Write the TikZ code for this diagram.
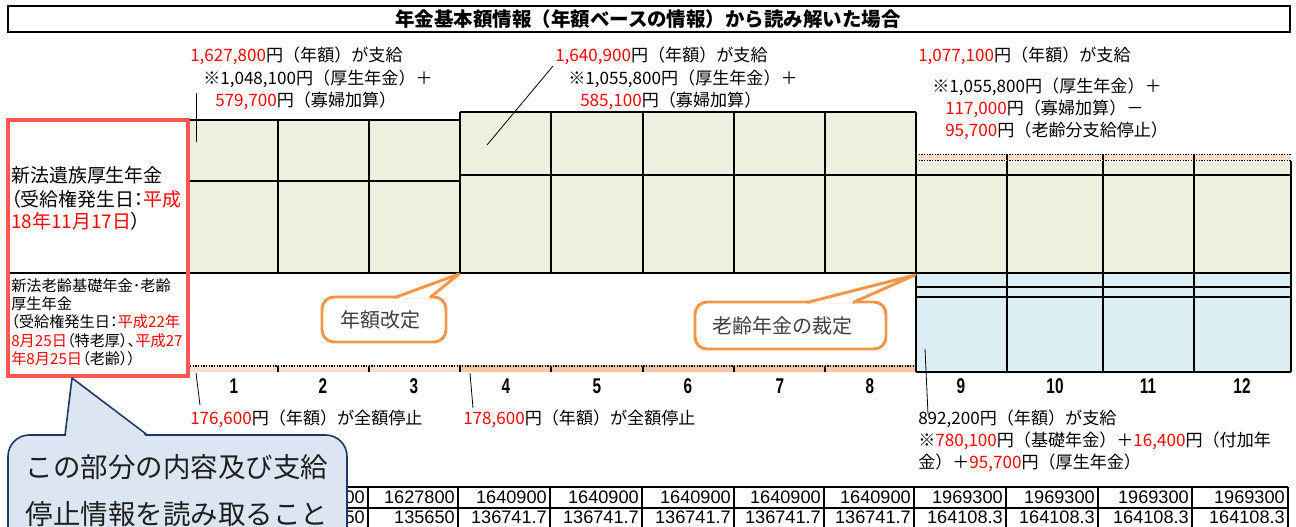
\documentclass[tikz,border=0pt]{standalone}
\usepackage{fontspec}
\setmainfont{Noto Sans CJK JP}
\newfontfamily\jpp[RawFeature=+palt]{Noto Sans CJK JP}
\newfontfamily\numbf[FakeStretch=0.72]{Liberation Sans}
\newfontfamily\tabf{Liberation Sans}
\definecolor{jred}{RGB}{255,0,0}
\definecolor{redbox}{RGB}{255,85,85}
\definecolor{gfill}{RGB}{236,240,222}
\definecolor{bfill}{RGB}{218,238,243}
\definecolor{peachL}{RGB}{250,222,204}
\definecolor{peachD}{RGB}{246,200,168}
\definecolor{calor}{RGB}{247,150,70}
\definecolor{calblue}{RGB}{220,230,242}
\definecolor{calnavy}{RGB}{31,56,100}
\definecolor{txtgray}{RGB}{64,64,64}
\newcommand{\rd}[1]{\textcolor{jred}{#1}}
\begin{document}
\begin{tikzpicture}[x=0.75pt,y=-0.75pt,
  gridline/.style={line width=1.6pt,black},
  hatch/.style={line width=1.3pt,black,dash pattern=on 1.1pt off 0.9pt},
  tick/.style={line width=0.8pt,black},
  ann/.style={anchor=west,inner sep=0pt,font=\fontsize{12.8}{15}\selectfont},
  lbl/.style={anchor=west,inner sep=0pt,font=\jpp\fontsize{14.2}{16}\selectfont},
  slbl/.style={anchor=west,inner sep=0pt,font=\jpp\fontsize{11.4}{13}\selectfont},
  colnum/.style={inner sep=0pt,font=\numbf\bfseries\fontsize{16}{18}\selectfont},
  tabval/.style={anchor=east,inner sep=0pt,font=\tabf\fontsize{13.6}{16}\selectfont},
  leader/.style={line width=0.6pt,black},
  calbox/.style={draw=calor,line width=2.2pt,fill=white,rounded corners=9pt},
  caltext/.style={text=txtgray,font=\fontsize{15}{18}\selectfont}
]
\clip (0,0) rectangle (1296,526);
\fill[white] (0,0) rectangle (1296,526);

% title
\draw[line width=2.2pt] (8,6) rectangle (1290,32);
\node[inner sep=0pt,font=\bfseries\fontsize{14.6}{17}\selectfont] (title) at (648,19) {年金基本額情報（年額ベースの情報）から読み解いた場合};

% fills
\fill[gfill] (190,120) rectangle (460,273);
\fill[gfill] (460,112) rectangle (916,273);
\fill[gfill] (916,158) rectangle (1291,273);
\fill[bfill] (916,273) rectangle (1291,372);

% hatched bands
\fill[peachL] (190,365) rectangle (460,372);
\fill[peachD] (460,365) rectangle (916,372);
\draw[hatch] (190,366) -- (916,366);
\foreach \x in {278,369,460,551,643,734,825} \draw[tick] (\x,366) -- (\x,372);
\fill[peachL] (916,154) rectangle (1291,160);
\draw[hatch] (916,154.5) -- (1291,154.5);
\draw[hatch] (916,160.5) -- (1291,160.5);
\foreach \x in {1007,1103,1194} \draw[tick] (\x,154) -- (\x,160);

% grid lines
\draw[gridline] (190,120) -- (460,120);
\draw[gridline] (190,181) -- (460,181);
\draw[gridline] (460,112) -- (916,112);
\draw[gridline] (460,175) -- (1291,175);
\draw[gridline] (916,287) -- (1291,287);
\draw[gridline] (916,297) -- (1291,297);
\draw[gridline] (916,372) -- (1291,372);
\foreach \x in {278,369} \draw[gridline] (\x,120) -- (\x,273);
\foreach \x in {460,551,643,734,825} \draw[gridline] (\x,112) -- (\x,273);
\draw[gridline] (916,112) -- (916,372);
\foreach \x in {1007,1103,1194,1291} \draw[gridline] (\x,161) -- (\x,372);

% label box
\fill[white] (8,120) rectangle (188,376);
\draw[gridline] (9,273) -- (1291,273);
\draw[line width=3pt,redbox] (8,120) rectangle (188,376);

\node[lbl] (L1) at (11,175) {新法遺族厚生年金};
\node[lbl] (L2) at (11,199) {（受給権発生日：\rd{平成}};
\node[lbl] (L3) at (11,221) {\rd{18年11月17日}）};
\node[slbl] (S1) at (11,286) {新法老齢基礎年金･老齢};
\node[slbl] (S2) at (11,304) {厚生年金};
\node[slbl] (S3) at (11,322) {（受給権発生日：\rd{平成22年}};
\node[slbl] (S4) at (11,341) {\rd{8月25日}（特老厚）、\rd{平成27}};
\node[slbl] (S5) at (11,359) {\rd{年8月25日}（老齢））};

% column numbers
\foreach \x/\n in {234/1,323/2,414/3,506/4,597/5,688/6,780/7,870/8,961/9,1055/10,1148/11,1242/12}
  \node[colnum] (c\n) at (\x,386) {\n};

% annotations top
\node[ann] (A1) at (190,56) {\rd{1,627,800}円（年額）が支給};
\node[ann] (A2) at (203,79) {※1,048,100円（厚生年金）＋};
\node[ann] (A3) at (215,101) {\rd{579,700}円（寡婦加算）};
\node[ann] (B1) at (555,56) {\rd{1,640,900}円（年額）が支給};
\node[ann] (B2) at (568,79) {※1,055,800円（厚生年金）＋};
\node[ann] (B3) at (580,101) {\rd{585,100}円（寡婦加算）};
\node[ann] (C1) at (918,56) {\rd{1,077,100}円（年額）が支給};
\node[ann] (C2) at (932,87) {※1,055,800円（厚生年金）＋};
\node[ann] (C3) at (945,109) {\rd{117,000}円（寡婦加算）－};
\node[ann] (C4) at (945,131) {\rd{95,700}円（老齢分支給停止）};
% annotations bottom
\node[ann] (D1) at (190,419) {\rd{176,600}円（年額）が全額停止};
\node[ann] (E1) at (463,419) {\rd{178,600}円（年額）が全額停止};
\node[ann] (F1) at (918,419) {892,200円（年額）が支給};
\node[ann] (F2) at (918,441) {※\rd{780,100}円（基礎年金）＋\rd{16,400}円（付加年};
\node[ann] (F3) at (918,463) {金）＋\rd{95,700}円（厚生年金）};

% leader lines
\coordinate (la1) at (196,93);  \coordinate (la2) at (196,142);
\coordinate (lb1) at (553,66);  \coordinate (lb2) at (487,145);
\coordinate (ld1) at (196,373); \coordinate (ld2) at (200,405);
\coordinate (le1) at (470,373); \coordinate (le2) at (473,408);
\coordinate (lf1) at (925,349); \coordinate (lf2) at (928,414);
\draw[leader] (la1) -- (la2);
\draw[leader] (lb1) -- (lb2);
\draw[leader] (ld1) -- (ld2);
\draw[leader] (le1) -- (le2);
\draw[leader] (lf1) -- (lf2);

% callout 年額改定
\node[calbox,minimum width=124*0.75pt,minimum height=45*0.75pt] (k1) at (384,319.5) {};
\node[caltext] (k1t) at (380,320) {年額改定};
\coordinate (k1tip) at (459,274);
\fill[white] (396,298.6) -- (k1tip) -- (429,298.6) -- cycle;
\draw[calor,line width=2.2pt,line join=round] (395,297.5) -- (k1tip) -- (430,297.5);

% callout 老齢年金の裁定
\node[calbox,minimum width=191*0.75pt,minimum height=47*0.75pt] (k2) at (790.5,325.5) {};
\node[caltext] (k2t) at (782,326) {老齢年金の裁定};
\coordinate (k2tip) at (915,275);
\fill[white] (808,303.6) -- (k2tip) -- (852,303.6) -- cycle;
\draw[calor,line width=2.2pt,line join=round] (807,302.5) -- (k2tip) -- (853,302.5);

% table
\foreach \y in {487,508} \draw[gridline] (280,\y) -- (1288,\y);
\foreach \x in {280,368,458,550,642,734,824,914,1006,1098,1192,1288} \draw[gridline] (\x,487) -- (\x,530);
\foreach \x/\a/\b [count=\i] in {365/1627800/135650,455/1627800/135650,547/1640900/136741.7,639/1640900/136741.7,731/1640900/136741.7,821/1640900/136741.7,911/1640900/136741.7,1003/1969300/164108.3,1095/1969300/164108.3,1189/1969300/164108.3,1285/1969300/164108.3}
{
  \node[tabval] (ta\i) at (\x,497.5) {\a};
  \node[tabval] (tb\i) at (\x,517.5) {\b};
}

% big callout
\node[draw=calnavy,line width=1.2pt,fill=calblue,rounded corners=16pt,minimum width=339*0.75pt,minimum height=140*0.75pt] (big) at (177.5,505) {};
\coordinate (bigtip) at (72,378);
\fill[calblue] (66,437) -- (bigtip) -- (147,437) -- cycle;
\draw[calnavy,line width=1.2pt,line join=round] (65,435.5) -- (bigtip) -- (148,435.5);
\node[inner sep=0pt,font=\fontsize{20.6}{24}\selectfont,text=black!88] (bt1) at (177,467) {この部分の内容及び支給};
\node[inner sep=0pt,font=\fontsize{20.6}{24}\selectfont,text=black!88] (bt2) at (177,514) {停止情報を読み取ること};
\end{tikzpicture}
\end{document}
